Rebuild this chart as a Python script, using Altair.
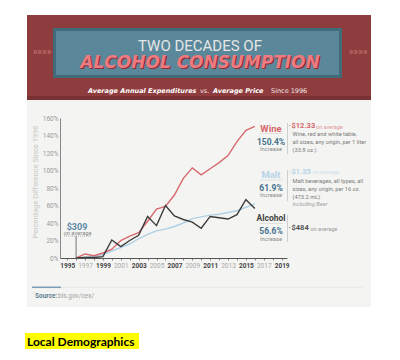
import altair as alt
import pandas as pd

# ---------------- data ----------------
years = list(range(1996, 2017))
wine = [0, 4.6, 2.6, 5.7, 10, 20, 25, 29, 42, 56, 59, 72, 91, 103, 95, 102, 109, 117, 133, 146, 150.4]
malt = [0, 1, 2, 4, 8, 12, 16, 22, 27, 31, 33, 36, 40, 45, 47, 49, 50, 52, 54, 58, 61.9]
alcohol = [0, 0.5, 0.5, 1.5, 20.6, 13, 20, 26, 47.5, 37, 60, 48, 44, 41, 34, 47.5, 46, 44.5, 49.5, 66.6, 56.6]

series_names = ["Malt", "Wine", "Alcohol"]
series_colors = ["#b0d0e3", "#d8696d", "#3c3c3c"]
series_widths = [1.4, 1.4, 1.8]

x_ticks = list(range(1995, 2020))
y_ticks = list(range(0, 161, 20))

anchor_year = [1996]
anchor_low = [0]
anchor_high = [25]

# canvas 384 x 344 (page minus margins); plot area sits inside via padding
CW, CH = 384, 344
PL, PT, PR, PB = 52, 110, 105, 94
W, H = CW - PL - PR, CH - PT - PB

long = pd.DataFrame({
    "year": years * 3,
    "pct": malt + wine + alcohol,
    "series": ["Malt"] * len(years) + ["Wine"] * len(years) + ["Alcohol"] * len(years),
})
anchor = pd.DataFrame({"year": anchor_year, "low": anchor_low, "high": anchor_high})

xscale = alt.Scale(domain=[1994.2, 2019.6], nice=False, zero=False)
yscale = alt.Scale(domain=[0, 160], nice=False, zero=False)

x_axis = alt.Axis(
    values=x_ticks, title=None, grid=False, zindex=1,
    labelExpr="datum.value % 2 == 1 ? '' + datum.value : ''",
    labelFontSize=6.5, labelFont="Roboto",
    labelFontWeight={"condition": {"test": "datum.value % 4 == 3", "value": "bold"}, "value": "normal"},
    labelColor={"condition": {"test": "datum.value % 4 == 3", "value": "#444444"}, "value": "#aaaaaa"},
    tickSize=2, tickColor="#888", domainColor="#555", domainWidth=1, labelPadding=2,
    labelOverlap=False, labelFlush=False)
y_axis = alt.Axis(
    values=y_ticks, title=None, grid=False, zindex=1,
    labelExpr="datum.value + '%'", labelFontSize=6.5, labelFont="Roboto",
    labelColor="#9a9a9a", ticks=False, labelPadding=2, domainColor="#888", domainWidth=1)

dummy = alt.Data(values=[{}])


def box(x, y, x2, y2, color, **kw):
    return alt.Chart(dummy).mark_rect(color=color, **kw).encode(
        x=alt.value(x - PL), x2=alt.value(x2 - PL), y=alt.value(y - PT), y2=alt.value(y2 - PT))


def rule(x, y, x2, y2, color, width=1, **kw):
    return alt.Chart(dummy).mark_rule(color=color, strokeWidth=width, **kw).encode(
        x=alt.value(x - PL), x2=alt.value(x2 - PL), y=alt.value(y - PT), y2=alt.value(y2 - PT))


def label(text, x, y, size=6, color="#777", weight="normal", align="left",
          style="normal", font="Roboto", angle=None, **kw):
    args = dict(text=text, fontSize=size, color=color, fontWeight=weight, align=align,
                baseline="middle", font=font, fontStyle=style, **kw)
    if angle is not None:
        args["angle"] = angle
    return alt.Chart(dummy).mark_text(**args).encode(x=alt.value(x - PL), y=alt.value(y - PT))


layers = []

# card and banner
layers.append(box(19, 7, 363, 299, "#f4f4f2"))
layers.append(box(19, 7, 363, 92, "#8e3c3e"))
layers.append(box(19, 88, 363, 92, "#7a3134"))
layers.append(box(45, 20, 334, 70, "#3f6b7b"))
layers.append(box(48, 23, 331, 67, "#5a889a"))
layers.append(label("»»»»", 34, 44, size=10, color="#c47474", align="center"))
layers.append(label("»»»»", 350, 44, size=10, color="#c47474", align="center"))

layers.append(label("TWO DECADES OF", 192, 37.5, size=15, color="#e4e6e6", align="center"))
layers.append(label("ALCOHOL CONSUMPTION", 193.3, 56, size=17, color="#8b2e35", weight="bold",
                    style="italic", font="DejaVu Sans", align="center"))
layers.append(label("ALCOHOL CONSUMPTION", 192, 54.5, size=17, color="#ee7b81", weight="bold",
                    style="italic", font="DejaVu Sans", align="center"))

sub_y = 82.5
layers.append(label("Average Annual Expenditures", 80, sub_y, size=6.5, color="#ffffff",
                    weight="bold", style="italic", font="DejaVu Sans"))
layers.append(label("vs.", 192, sub_y, size=6.5, color="#f2e6e6", font="DejaVu Sans"))
layers.append(label("Average Price", 205, sub_y, size=6.5, color="#ffffff",
                    weight="bold", style="italic", font="DejaVu Sans"))
layers.append(label("Since 1996", 263, sub_y, size=6.5, color="#f2e6e6", font="DejaVu Sans"))

# y-axis title
layers.append(label("Percentage Difference Since 1996", 28, 174, size=7.5, color="#c9c9c9",
                    align="center", angle=270))

# lines
lines = alt.Chart(long).mark_line(interpolate="linear").encode(
    x=alt.X("year:Q", scale=xscale, axis=x_axis),
    y=alt.Y("pct:Q", scale=yscale, axis=y_axis),
    color=alt.Color("series:N", scale=alt.Scale(domain=series_names, range=series_colors), legend=None),
    strokeWidth=alt.StrokeWidth("series:N", scale=alt.Scale(domain=series_names, range=series_widths), legend=None),
    detail="series:N",
)
layers.append(lines)

# $309 annotation
layers.append(alt.Chart(anchor).mark_rule(color="#555", strokeWidth=0.8).encode(
    x=alt.X("year:Q", scale=xscale, axis=x_axis),
    y=alt.Y("low:Q", scale=yscale, axis=y_axis),
    y2="high:Q"))
layers.append(rule(56, 228, 83, 228, "#9a9a9a", 0.8, strokeDash=[1, 1]))
layers.append(label("$309", 69, 218.5, size=9, color="#5b8aa6", weight="bold", align="center"))
layers.append(label("on average", 69.5, 225, size=5.8, color="#888", align="center"))

# right-hand annotations
pct_color = "#46728c"
desc_color = "#7a7a7a"
lx = 263
tx = 284.5

# Wine
layers.append(label("Wine", lx, 120.5, size=9.5, color="#d4686c", weight="bold", align="center"))
layers.append(rule(252, 125.5, 275, 125.5, "#d6d6d6", 0.7))
layers.append(label("150.4%", lx, 133.5, size=8.5, color=pct_color, weight="bold", align="center"))
layers.append(label("Increase", lx, 140.5, size=5.8, color="#8a8a8a", align="center"))
layers.append(rule(279.5, 115, 279.5, 146, "#cfcfcf", 1))
layers.append(label("•", 281.5, 118, size=5, color="#d4686c", align="center"))
layers.append(label("$12.33", 283.5, 118, size=7.5, color="#d4686c", weight="bold"))
layers.append(label("on average", 308, 118.5, size=5.5, color="#e39a9c"))
layers.append(label("Wine, red and white table,", tx, 126, size=5.7, color=desc_color))
layers.append(label("all sizes, any origin, per 1 liter", tx, 134, size=5.7, color=desc_color))
layers.append(label("(33.8 oz.)", tx, 142, size=5.7, color=desc_color))

# Malt
layers.append(label("Malt", lx, 167, size=9.5, color="#b7d3e5", weight="bold", align="center"))
layers.append(rule(252, 172, 275, 172, "#d6d6d6", 0.7))
layers.append(label("61.9%", lx, 180.3, size=8.5, color=pct_color, weight="bold", align="center"))
layers.append(label("Increase", lx, 187.3, size=5.8, color="#8a8a8a", align="center"))
layers.append(rule(279.5, 162, 279.5, 193, "#cfcfcf", 1))
layers.append(label("•", 281.5, 163.7, size=5, color="#b7d3e5", align="center"))
layers.append(label("$1.35", 283.5, 163.7, size=7.5, color="#b7d3e5", weight="bold"))
layers.append(label("on average", 304.5, 164.2, size=5.5, color="#cfe0ea"))
layers.append(label("Malt beverages, all types, all", tx, 172.7, size=5.7, color=desc_color))
layers.append(label("sizes, any origin, per 16 oz.", tx, 181, size=5.7, color=desc_color))
layers.append(label("(473.2 mL)", tx, 188.7, size=5.7, color=desc_color))
layers.append(label("including Beer", tx, 196.3, size=5.7, color="#a0a0a0", style="italic"))

# Alcohol
layers.append(label("Alcohol", lx, 210.3, size=8.5, color="#444", weight="bold", align="center"))
layers.append(rule(252, 215.5, 275, 215.5, "#d6d6d6", 0.7))
layers.append(label("56.6%", lx, 223.2, size=8.5, color=pct_color, weight="bold", align="center"))
layers.append(label("Increase", lx, 230.6, size=5.8, color="#8a8a8a", align="center"))
layers.append(rule(279.5, 207, 279.5, 234, "#cfcfcf", 1))
layers.append(label("•", 281.5, 220.3, size=5, color="#555", align="center"))
layers.append(label("$484", 283.5, 220.3, size=7.5, color="#555", weight="bold"))
layers.append(label("on average", 302.5, 220.8, size=5.5, color="#999"))

# source
layers.append(rule(53, 279.3, 355, 279.3, "#e4e4e4", 0.8))
layers.append(rule(24, 279.3, 53, 279.3, "#7b9db3", 1.5))
layers.append(label("Source:", 27, 288, size=6.5, color="#5f7f93", weight="bold"))
layers.append(label("bls.gov/cex/", 50, 288, size=6.5, color="#a0a0a0"))

# Local Demographics
layers.append(box(17, 325, 131, 341, "#ffff00"))
layers.append(label("Local Demographics", 19, 333.5, size=12, color="#000000", weight="bold", font="Lato"))

chart = alt.layer(*layers).properties(
    width=W, height=H,
    padding={"left": PL, "top": PT, "right": PR, "bottom": PB},
    autosize=alt.AutoSizeParams(type="none"),
    background="#ffffff",
).configure_view(strokeWidth=0)

chart.save("out.html", embed_options={"renderer": "svg", "actions": False})
